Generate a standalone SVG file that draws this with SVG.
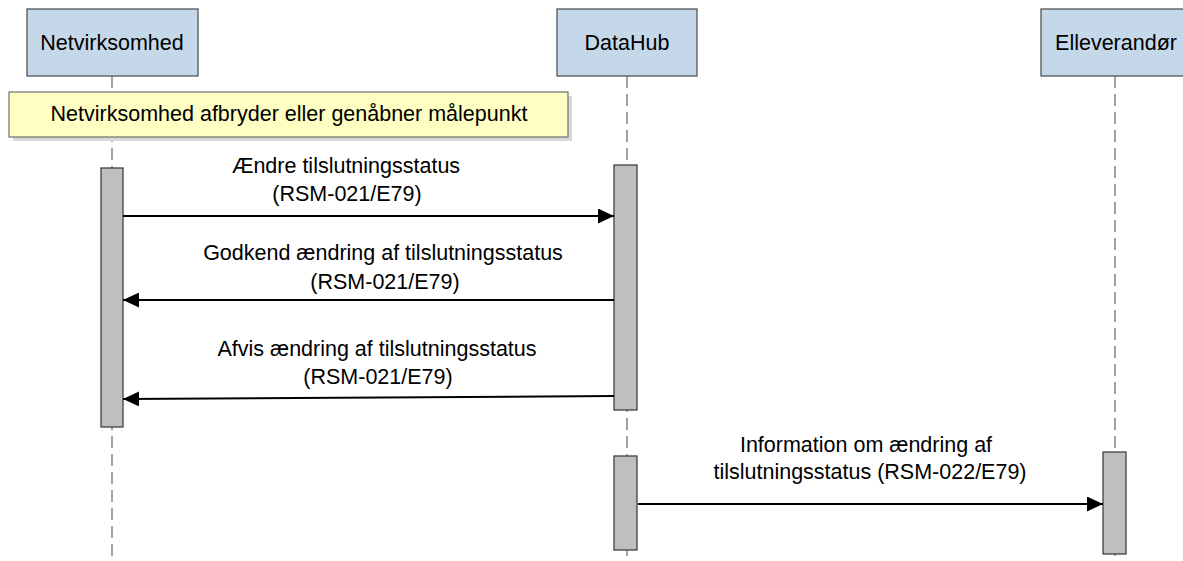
<svg xmlns="http://www.w3.org/2000/svg" width="1183" height="561" viewBox="0 0 1183 561">
  <style>
    .hdr { fill: #c5d8ea; stroke: #555555; stroke-width: 1.3; }
    .life { stroke: #666666; stroke-width: 1.2; stroke-dasharray: 12 6; fill: none; }
    .act { fill: #bfbfbf; stroke: #404040; stroke-width: 1.3; }
    .note { fill: #ffffc4; stroke: #6f6f6f; stroke-width: 1.2; }
    .shadow { fill: #d9d9d9; }
    .msg { stroke: #000000; stroke-width: 2; fill: none; marker-end: url(#arrow); }
    text { font-family: "Liberation Sans", Arial, sans-serif; font-size: 21.5px; fill: #000000; text-anchor: middle; }
  </style>
  <defs>
    <marker id="arrow" markerUnits="userSpaceOnUse" markerWidth="17" markerHeight="15" refX="16" refY="7.5" orient="auto">
      <path d="M0,0 L16,7.5 L0,15 z" fill="#000000"/>
    </marker>
  </defs>
  <rect width="1183" height="561" fill="#ffffff"/>

  <g id="lifelines">
    <line class="life" x1="112" y1="76" x2="112" y2="561"/>
    <line class="life" x1="627" y1="76" x2="627" y2="561"/>
    <line class="life" x1="1115" y1="76" x2="1115" y2="561"/>
  </g>

  <g id="node-netvirksomhed">
    <rect class="hdr" x="27" y="9" width="171" height="67"/>
    <text x="112" y="50">Netvirksomhed</text>
  </g>
  <g id="node-datahub">
    <rect class="hdr" x="557" y="9" width="140" height="67"/>
    <text x="627" y="50">DataHub</text>
  </g>
  <g id="node-elleverandor">
    <rect class="hdr" x="1041" y="9" width="150" height="67"/>
    <text x="1116" y="50">Elleverandør</text>
  </g>

  <g id="node-note">
    <rect class="shadow" x="13" y="96" width="559" height="45"/>
    <rect class="note" x="9" y="92" width="559" height="45"/>
    <text x="289" y="121">Netvirksomhed afbryder eller genåbner målepunkt</text>
  </g>

  <g id="activations">
    <rect class="act" x="101" y="168" width="22" height="259"/>
    <rect class="act" x="614" y="165" width="23" height="245"/>
    <rect class="act" x="614" y="456" width="23" height="94"/>
    <rect class="act" x="1103" y="452" width="23" height="102"/>
  </g>

  <g id="connectors">
    <line class="msg" x1="123" y1="216" x2="614" y2="216"/>
    <line class="msg" x1="614" y1="300" x2="123" y2="300"/>
    <line class="msg" x1="614" y1="396" x2="123" y2="399"/>
    <line class="msg" x1="638" y1="504" x2="1103" y2="504"/>
  </g>

  <g id="labels">
    <text x="346" y="173">Ændre tilslutningsstatus</text>
    <text x="347" y="201">(RSM-021/E79)</text>
    <text x="383" y="260">Godkend ændring af tilslutningsstatus</text>
    <text x="385" y="289">(RSM-021/E79)</text>
    <text x="377" y="356">Afvis ændring af tilslutningsstatus</text>
    <text x="378" y="384">(RSM-021/E79)</text>
    <text x="866" y="452">Information om ændring af</text>
    <text x="870" y="479">tilslutningsstatus (RSM-022/E79)</text>
  </g>
</svg>
